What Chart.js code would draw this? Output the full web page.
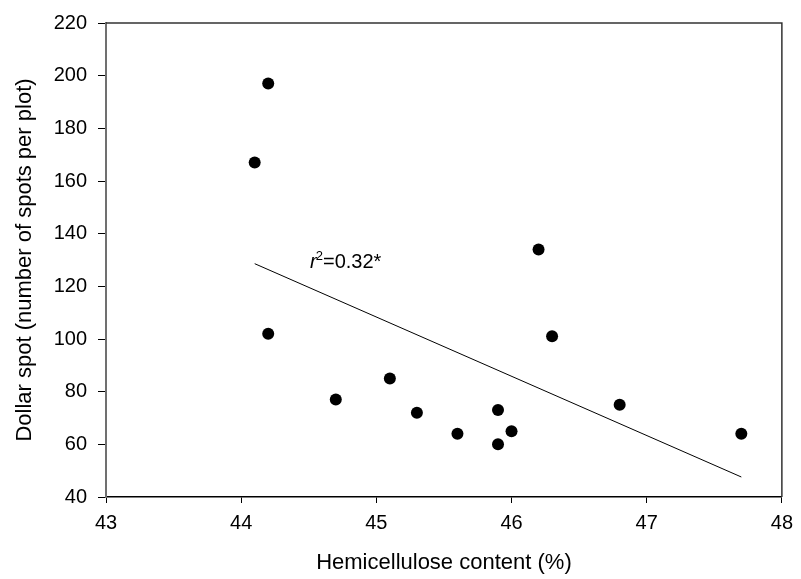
<!DOCTYPE html>
<html>
<head>
<meta charset="utf-8">
<script src="https://cdn.jsdelivr.net/npm/chart.js@4"></script>
<style>
html,body{margin:0;padding:0;background:#fff;}
canvas{display:block;}
</style>
</head>
<body>
<canvas id="c" width="801" height="579"></canvas>
<script>
// Data
const hemicellulose = [44.1, 44.2, 44.2, 44.7, 45.1, 45.3, 45.6, 45.9, 45.9, 46.0, 46.2, 46.3, 46.8, 47.7];
const dollarSpot    = [167, 197, 102, 77, 85, 72, 64, 73, 60, 65, 134, 101, 75, 64];
const fitX = [44.1, 47.7];
const fitY = [128.6, 47.6];
const xTicks = [43, 44, 45, 46, 47, 48];
const yTicks = [40, 60, 80, 100, 120, 140, 160, 180, 200, 220];
const xTitle = 'Hemicellulose content (%)';
const yTitle = 'Dollar spot (number of spots per plot)';
const annotX = 44.51, annotY = 126.8;
const annotR = 'r', annotSup = '2', annotRest = '=0.32*';

const FONT = "'Liberation Sans', Arial, sans-serif";

const points = hemicellulose.map((x, i) => ({x, y: dollarSpot[i]}));
const fitLine = fitX.map((x, i) => ({x, y: fitY[i]}));

const framePlugin = {
  id: 'frame',
  afterDraw(chart) {
    const {ctx, chartArea: a, scales} = chart;
    ctx.save();
    ctx.strokeStyle = '#333';
    ctx.lineWidth = 1.5;
    ctx.beginPath();
    ctx.moveTo(a.left, a.top);
    ctx.lineTo(a.right, a.top);
    ctx.lineTo(a.right, a.bottom);
    ctx.stroke();
    // annotation
    const px = scales.x.getPixelForValue(annotX);
    const py = scales.y.getPixelForValue(annotY);
    ctx.fillStyle = '#000';
    ctx.textBaseline = 'alphabetic';
    ctx.textAlign = 'left';
    ctx.font = "italic 20px " + FONT;
    ctx.fillText(annotR, px, py);
    const w = ctx.measureText(annotR).width;
    ctx.font = "13px " + FONT;
    ctx.fillText(annotSup, px + w - 1, py - 8);
    const w2 = ctx.measureText(annotSup).width;
    ctx.font = "20px " + FONT;
    ctx.fillText(annotRest, px + w - 1 + w2, py);
    ctx.restore();
  }
};

new Chart(document.getElementById('c'), {
  type: 'scatter',
  data: {
    datasets: [
      {
        data: points,
        backgroundColor: '#000',
        borderColor: '#000',
        pointRadius: 6,
        pointHoverRadius: 6,
        borderWidth: 0
      },
      {
        data: fitLine,
        showLine: true,
        borderColor: '#000',
        borderWidth: 1,
        pointRadius: 0,
        fill: false
      }
    ]
  },
  options: {
    responsive: false,
    animation: false,
    events: [],
    layout: {padding: {top: 23, right: 19, left: 0, bottom: 0}},
    plugins: {legend: {display: false}, tooltip: {enabled: false}},
    scales: {
      x: {
        type: 'linear',
        min: 43, max: 48,
        afterBuildTicks: s => { s.ticks = xTicks.map(v => ({value: v})); },
        afterFit: s => { s.height = 82; },
        grid: {display: true, drawOnChartArea: false, drawTicks: true, tickLength: 6, color: '#000', lineWidth: 1},
        border: {display: true, color: '#000', width: 1.5},
        ticks: {color: '#000', padding: 8, font: {family: FONT, size: 20}, maxRotation: 0},
        title: {display: true, text: xTitle, color: '#000', font: {family: FONT, size: 22}, padding: {top: 4, bottom: 3}}
      },
      y: {
        type: 'linear',
        min: 40, max: 220,
        afterBuildTicks: s => { s.ticks = yTicks.map(v => ({value: v})); },
        afterFit: s => { s.width = 106; },
        grid: {display: true, drawOnChartArea: false, drawTicks: true, tickLength: 8, color: '#000', lineWidth: 1},
        border: {display: true, color: '#707070', width: 2},
        ticks: {color: '#000', padding: 11, font: {family: FONT, size: 20}},
        title: {display: true, text: yTitle, color: '#000', font: {family: FONT, size: 22}, padding: {top: 12, bottom: 4}}
      }
    }
  },
  plugins: [framePlugin]
});
</script>
</body>
</html>
